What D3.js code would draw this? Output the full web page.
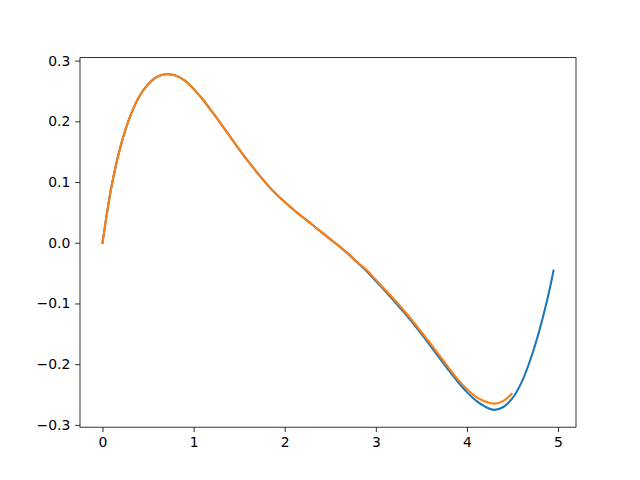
<!DOCTYPE html>
<html>
<head>
<meta charset="utf-8">
<script src="https://cdn.jsdelivr.net/npm/d3@7"></script>
<style>
  body { margin: 0; background: #fff; }
  text { font-family: 'DejaVu Sans', sans-serif; }
</style>
</head>
<body>
<div id="chart"></div>
<script>
// values
const blueX = [0, 0.05, 0.1, 0.2, 0.3, 0.4, 0.5, 0.6, 0.7, 0.8, 0.9, 1.0, 1.1, 1.2, 1.3, 1.4, 1.5,
  1.6, 1.7, 1.8, 1.9, 2.0, 2.1, 2.2, 2.3, 2.4, 2.5, 2.6, 2.7, 2.8, 2.9, 3.0, 3.1, 3.2, 3.3,
  3.4, 3.5, 3.6, 3.7, 3.8, 3.9, 4.0, 4.1, 4.2, 4.3, 4.4, 4.5, 4.6, 4.7, 4.8, 4.9, 4.95]
const blueY = [0, 0.050, 0.094, 0.160, 0.207, 0.240, 0.261, 0.2735, 0.2775, 0.2755, 0.2675, 0.2535,
  0.236, 0.2165, 0.196, 0.175, 0.154, 0.134, 0.115, 0.097, 0.081, 0.067, 0.054, 0.042, 0.030,
  0.018, 0.006, -0.006, -0.019, -0.033, -0.047, -0.063, -0.079, -0.096, -0.113, -0.131, -0.150,
  -0.170, -0.190, -0.210, -0.229, -0.246, -0.260, -0.270, -0.2752, -0.2705, -0.256, -0.230,
  -0.191, -0.142, -0.082, -0.046]

const orangeX = [0, 0.05, 0.1, 0.2, 0.3, 0.4, 0.5, 0.6, 0.7, 0.8, 0.9, 1.0, 1.1, 1.2, 1.3, 1.4, 1.5,
  1.6, 1.7, 1.8, 1.9, 2.0, 2.1, 2.2, 2.3, 2.4, 2.5, 2.6, 2.7, 2.8, 2.9, 3.0, 3.1, 3.2, 3.3,
  3.4, 3.5, 3.6, 3.7, 3.8, 3.9, 4.0, 4.1, 4.2, 4.3, 4.4, 4.49]
const orangeY = [0, 0.050, 0.094, 0.160, 0.207, 0.240, 0.261, 0.2735, 0.2775, 0.2755, 0.2675, 0.2535,
  0.236, 0.2165, 0.196, 0.175, 0.154, 0.134, 0.115, 0.097, 0.081, 0.067, 0.054, 0.042, 0.030,
  0.018, 0.006, -0.006, -0.018, -0.032, -0.045, -0.061, -0.077, -0.093, -0.110, -0.128, -0.147,
  -0.166, -0.186, -0.206, -0.225, -0.241, -0.254, -0.2615, -0.265, -0.2605, -0.249]

const xTicks = [0, 1, 2, 3, 4, 5]
const yTicks = [-0.3, -0.2, -0.1, 0.0, 0.1, 0.2, 0.3]

const margin = { top: 57.6, right: 64, bottom: 52.8, left: 80 }
const width = 640 - margin.left - margin.right
const height = 480 - margin.top - margin.bottom

const svg = d3
  .select('#chart')
  .append('svg')
  .attr('width', 640)
  .attr('height', 480)
  .append('g')
  .attr('transform', 'translate(' + margin.left + ',' + margin.top + ')')

const xPositionScale = d3.scaleLinear().domain([-0.2475, 5.1975]).range([0, width])
const yPositionScale = d3.scaleLinear().domain([-0.3038, 0.3050]).range([height, 0])

const line = d3
  .line()
  .x(d => xPositionScale(d[0]))
  .y(d => yPositionScale(d[1]))
  .curve(d3.curveCatmullRom)

const series = [
  { xs: blueX, ys: blueY, color: '#1f77b4' },
  { xs: orangeX, ys: orangeY, color: '#ff7f0e' }
]

series.forEach(s => {
  svg
    .append('path')
    .datum(s.xs.map((x, i) => [x, s.ys[i]]))
    .attr('fill', 'none')
    .attr('stroke', s.color)
    .attr('stroke-width', 2.08)
    .attr('stroke-linecap', 'square')
    .attr('d', line)
})

const fmtMinus = s => s.replace('-', '\u2212')

const xAxis = d3
  .axisBottom(xPositionScale)
  .tickValues(xTicks)
  .tickSize(4.86)
  .tickPadding(4.86)
  .tickFormat(d3.format('d'))

const yAxis = d3
  .axisLeft(yPositionScale)
  .tickValues(yTicks)
  .tickSize(4.86)
  .tickPadding(4.86)
  .tickFormat(d => fmtMinus(d3.format('.1f')(d)))

svg
  .append('g')
  .attr('class', 'axis x-axis')
  .attr('transform', 'translate(0,' + height + ')')
  .call(xAxis)

svg
  .append('g')
  .attr('class', 'axis y-axis')
  .call(yAxis)

svg.selectAll('.axis .domain').remove()
svg.selectAll('.axis line').attr('stroke', '#000').attr('stroke-width', 0.8)
svg.selectAll('.axis text').attr('font-size', 13.9).attr('fill', '#000')
  .attr('font-family', "'DejaVu Sans', sans-serif")

svg
  .append('rect')
  .attr('width', width)
  .attr('height', height)
  .attr('fill', 'none')
  .attr('stroke', '#000')
  .attr('stroke-width', 0.8)
</script>
</body>
</html>
